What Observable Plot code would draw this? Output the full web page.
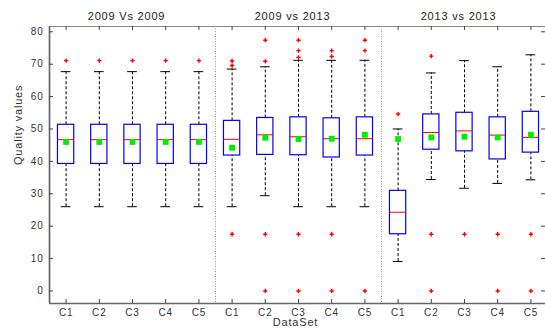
<!DOCTYPE html>
<html><head><meta charset="utf-8">
<script src="https://cdn.jsdelivr.net/npm/d3@7"></script>
<script src="https://cdn.jsdelivr.net/npm/@observablehq/plot@0.6"></script>
<style>
body{margin:0;background:#fff}
#chart svg{font-family:"Liberation Sans",Arial,sans-serif;letter-spacing:0.8px}
</style>
</head><body><div id="chart"></div>
<script>
const groups = ["2009 Vs 2009", "2009 vs 2013", "2013 vs 2013"];
const categories = ["C1", "C2", "C3", "C4", "C5"];
const yTicks = [0, 10, 20, 30, 40, 50, 60, 70, 80];

// one entry per box, in order: group 1 C1..C5, group 2 C1..C5, group 3 C1..C5
const lowerWhisker = [26.0, 26.0, 26.0, 26.0, 26.0, 26.0, 29.4, 26.0, 26.0, 26.0, 9.1, 34.4, 31.7, 33.2, 34.3];
const q1 = [39.2, 39.2, 39.2, 39.2, 39.2, 41.8, 42.0, 41.9, 41.2, 41.8, 17.5, 43.6, 43.1, 40.6, 42.7];
const median = [46.7, 46.7, 46.7, 46.7, 46.7, 46.8, 48.2, 47.6, 47.0, 47.0, 24.3, 48.9, 49.4, 48.1, 47.4];
const q3 = [51.3, 51.3, 51.3, 51.3, 51.3, 52.5, 53.4, 53.6, 53.3, 53.6, 30.9, 54.5, 55.0, 53.6, 55.3];
const upperWhisker = [67.7, 67.7, 67.7, 67.7, 67.7, 68.5, 69.2, 71.2, 71.2, 71.2, 50.0, 67.3, 71.1, 69.2, 72.9];
const mean = [46.0, 46.0, 46.0, 46.0, 46.0, 44.2, 47.3, 46.9, 47.0, 48.2, 46.9, 47.4, 47.6, 47.4, 48.2];

// outliers: box index (0-14) and value
const outlierBox = [0, 1, 2, 3, 4,
  5, 5, 5,
  6, 6, 6, 6,
  7, 7, 7, 7, 7,
  8, 8, 8, 8,
  9, 9, 9,
  10,
  11, 11, 11,
  12,
  13, 13,
  14, 14];
const outlierValue = [71.1, 71.1, 71.1, 71.1, 71.1,
  71.0, 69.6, 17.5,
  77.4, 70.9, 17.5, 0,
  77.4, 74.2, 72.1, 17.5, 0,
  74.2, 72.4, 17.5, 0,
  77.4, 74.2, 0,
  54.6,
  72.5, 17.5, 0,
  17.5,
  17.5, 0,
  17.5, 0];

const boxes = lowerWhisker.map((lo, i) => ({
  pos: i + 1, lo, q1: q1[i], med: median[i], q3: q3[i], hi: upperWhisker[i], mean: mean[i]
}));
const outliers = outlierBox.map((b, j) => ({pos: b + 1, value: outlierValue[j]}));
const positions = boxes.map(d => d.pos);
const separators = [5.5, 10.5];
const bw = 0.245, cw = 0.146;

const W = 545, H = 328, mL = 49, mR = 0, mT = 26, mB = 25;
const fw = W - mL - mR, fh = H - mT - mB;
const xDomain = [0.5, 15.44], yDomain = [-3.88, 81.64];

const plot = Plot.plot({
  width: W, height: H,
  marginLeft: mL, marginRight: mR, marginTop: mT, marginBottom: mB,
  style: {background: "#fff", color: "#333", fontSize: "10px"},
  x: {domain: xDomain},
  y: {domain: yDomain},
  marks: [
    Plot.ruleX(separators, {stroke: "#999", strokeDasharray: "1,1.5"}),
    Plot.ruleX(boxes, {x: "pos", y1: "q3", y2: "hi", stroke: "#000", strokeDasharray: "3,2"}),
    Plot.ruleX(boxes, {x: "pos", y1: "lo", y2: "q1", stroke: "#000", strokeDasharray: "3,2"}),
    Plot.ruleY(boxes, {y: "hi", x1: d => d.pos - cw, x2: d => d.pos + cw, stroke: "#000"}),
    Plot.ruleY(boxes, {y: "lo", x1: d => d.pos - cw, x2: d => d.pos + cw, stroke: "#000"}),
    Plot.rect(boxes, {x1: d => d.pos - bw, x2: d => d.pos + bw, y1: "q1", y2: "q3", stroke: "#0000ff", fill: "none", strokeWidth: 1.2}),
    Plot.ruleY(boxes, {y: "med", x1: d => d.pos - bw, x2: d => d.pos + bw, stroke: "#ff0000"}),
    Plot.dot(boxes, {x: "pos", y: "mean", symbol: "square", r: 3.3, fill: "#00ee00", stroke: null}),
    Plot.dot(outliers, {x: "pos", y: "value", symbol: "cross", r: 1.8, fill: "#ff0000", stroke: null}),
    // frame
    Plot.ruleY([yDomain[1]], {stroke: "#888"}),
    Plot.ruleX([xDomain[0]], {stroke: "#666", strokeWidth: 1.7}),
    Plot.ruleY([yDomain[0]], {stroke: "#666", strokeWidth: 1.7}),
    // inward ticks
    Plot.tickY(yTicks, {y: d => d, insetRight: fw - 4, stroke: "#444"}),
    Plot.tickY(yTicks, {y: d => d, insetLeft: fw - 4, stroke: "#444"}),
    Plot.tickX(positions, {x: d => d, insetTop: fh - 4, stroke: "#444"}),
    Plot.tickX(positions, {x: d => d, insetBottom: fh - 4, stroke: "#444"}),
    Plot.axisY({ticks: yTicks, tickSize: 0, tickPadding: 6, label: null}),
    Plot.axisX({ticks: positions, tickFormat: d => categories[(d - 1) % 5], tickSize: 0, tickPadding: 5, label: null}),
    Plot.text(groups, {x: (d, i) => i * 5 + 3, frameAnchor: "top", dy: -14, dx: -6, text: d => d, fontSize: 11, fill: "#222"}),
    Plot.text(["Quality values"], {frameAnchor: "left", rotate: -90, dx: -31, text: d => d, fontSize: 11, fill: "#333"}),
    Plot.text(["DataSet"], {x: 8, frameAnchor: "bottom", lineAnchor: "top", dy: 15, dx: -3, text: d => d, fontSize: 11, fill: "#333"})
  ]
});
document.getElementById("chart").appendChild(plot);
</script>
</body></html>
